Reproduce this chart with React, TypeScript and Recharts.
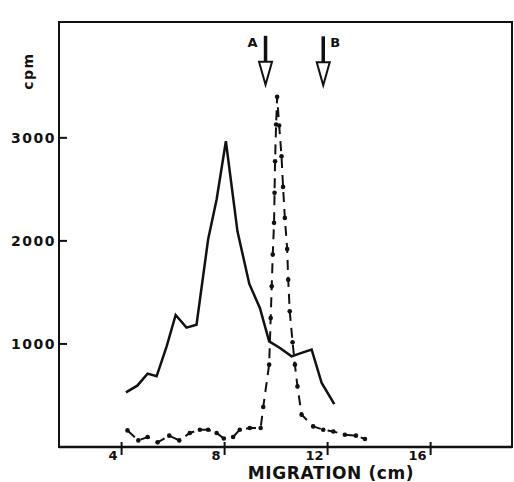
import { ComposedChart, Line, Scatter, XAxis, YAxis, ReferenceArea } from 'recharts';

// solid trace
const solidX = [4.17, 4.61, 5.01, 5.36, 5.75, 6.1, 6.52, 6.91, 7.36, 7.69, 8.05, 8.5, 8.96, 9.37, 9.73, 10.15, 10.6, 10.99, 11.38, 11.77, 12.26];
const solidCpm = [530, 595, 712, 686, 977, 1281, 1158, 1187, 2013, 2401, 2967, 2093, 1582, 1349, 1025, 961, 880, 913, 945, 621, 417];

// dot-dash trace
const dashX = [4.23, 4.65, 5.01, 5.4, 5.85, 6.24, 6.65, 7.04, 7.36, 7.69, 7.97, 8.33, 8.59, 8.98, 9.4, 9.5, 9.73, 9.79, 9.83, 9.87, 9.92, 9.94, 9.96, 10.0, 10.04, 10.12, 10.21, 10.27, 10.34, 10.43, 10.47, 10.53, 10.64, 10.73, 10.83, 10.99, 11.44, 11.83, 12.22, 12.67, 13.1, 13.45];
const dashCpm = [161, 64, 97, 45, 110, 64, 136, 168, 168, 136, 83, 97, 168, 184, 184, 388, 799, 1252, 1559, 1867, 2175, 2466, 2773, 3129, 3398, 3119, 2821, 2524, 2223, 1922, 1624, 1317, 1016, 799, 588, 314, 200, 168, 151, 119, 110, 78];

// markers A and B
const markerLabels = ['A', 'B'];
const markerX = [9.59, 11.83];
const markerCpm = [3990, 3985];

const xTicks = [4, 8, 12, 16];
const yTicks = [1000, 2000, 3000];
const xDomain: [number, number] = [1.57, 19.16];
const yDomain: [number, number] = [0, 4124];

const solidData = solidX.map((x, i) => ({ x, y: solidCpm[i] }));
const dashData = dashX.map((x, i) => ({ x, y: dashCpm[i] }));
const markerData = markerX.map((x, i) => ({ x, y: markerCpm[i], label: markerLabels[i] }));

const ink = '#111';
const font = '"DejaVu Sans", sans-serif';

const XTick = ({ x, y, payload }: any) => (
  <g>
    <line x1={x} y1={y - 5} x2={x} y2={y + 8} stroke={ink} strokeWidth={2} />
    <text x={x - 4} y={y + 13} textAnchor="end" fontFamily={font} fontWeight="bold" fontSize={13} fill={ink}>
      {payload.value}
    </text>
  </g>
);

const YTick = ({ x, y, payload }: any) => (
  <g>
    <line x1={x} y1={y} x2={x + 8} y2={y} stroke={ink} strokeWidth={2} />
    <text x={x - 3} y={y + 5} textAnchor="end" fontFamily={font} fontWeight="bold" fontSize={14} letterSpacing={1.5} fill={ink}>
      {payload.value}
    </text>
  </g>
);

const Arrow = ({ cx, cy, payload }: any) => {
  const left = payload.label === 'A';
  return (
    <g>
      <line x1={cx} y1={cy} x2={cx} y2={cy + 26} stroke={ink} strokeWidth={3.5} />
      <polygon points={`${cx - 6.5},${cy + 26} ${cx + 6.5},${cy + 26} ${cx},${cy + 49}`} fill="#fff" stroke={ink} strokeWidth={2} />
      <text
        x={left ? cx - 8 : cx + 7}
        y={cy + 11}
        textAnchor={left ? 'end' : 'start'}
        fontFamily={font}
        fontWeight="bold"
        fontSize={13}
        fill={ink}
      >
        {payload.label}
      </text>
    </g>
  );
};

export default function App() {
  return (
    <div style={{ position: 'absolute', left: 0, top: 0, width: 514, height: 482, background: '#fff' }}>
      <ComposedChart width={514} height={482} margin={{ top: 22, right: 2, left: 0, bottom: 0 }}>
        <ReferenceArea x1={xDomain[0]} x2={xDomain[1]} y1={yDomain[0]} y2={yDomain[1]} fill="none" stroke={ink} strokeWidth={2} />
        <XAxis
          dataKey="x"
          type="number"
          domain={xDomain}
          ticks={xTicks}
          allowDataOverflow
          height={35}
          tickSize={0}
          tickMargin={0}
          tickLine={false}
          axisLine={{ stroke: ink, strokeWidth: 2.5 }}
          tick={<XTick />}
        />
        <YAxis
          dataKey="y"
          type="number"
          domain={yDomain}
          ticks={yTicks}
          allowDataOverflow
          width={59}
          tickSize={0}
          tickMargin={0}
          tickLine={false}
          axisLine={{ stroke: ink, strokeWidth: 2 }}
          tick={<YTick />}
        />
        <Line data={solidData} dataKey="y" type="linear" stroke={ink} strokeWidth={2.5} dot={false} isAnimationActive={false} />
        <Line
          data={dashData}
          dataKey="y"
          type="linear"
          stroke={ink}
          strokeWidth={2}
          strokeDasharray="10 7"
          dot={{ r: 2.3, fill: ink, stroke: 'none' }}
          isAnimationActive={false}
        />
        <Scatter data={markerData} dataKey="y" shape={<Arrow />} isAnimationActive={false} />
      </ComposedChart>
      <svg width={514} height={482} style={{ position: 'absolute', left: 0, top: 0, pointerEvents: 'none' }}>
        <text
          x={331}
          y={479}
          textAnchor="middle"
          fontFamily={font}
          fontWeight="bold"
          fontSize={17}
          letterSpacing={0.6}
          fill={ink}
        >
          MIGRATION (cm)
        </text>
        <text
          transform="translate(33,71) rotate(-90)"
          textAnchor="middle"
          fontFamily={font}
          fontWeight="bold"
          fontSize={14}
          letterSpacing={1.5}
          fill={ink}
        >
          cpm
        </text>
      </svg>
    </div>
  );
}
